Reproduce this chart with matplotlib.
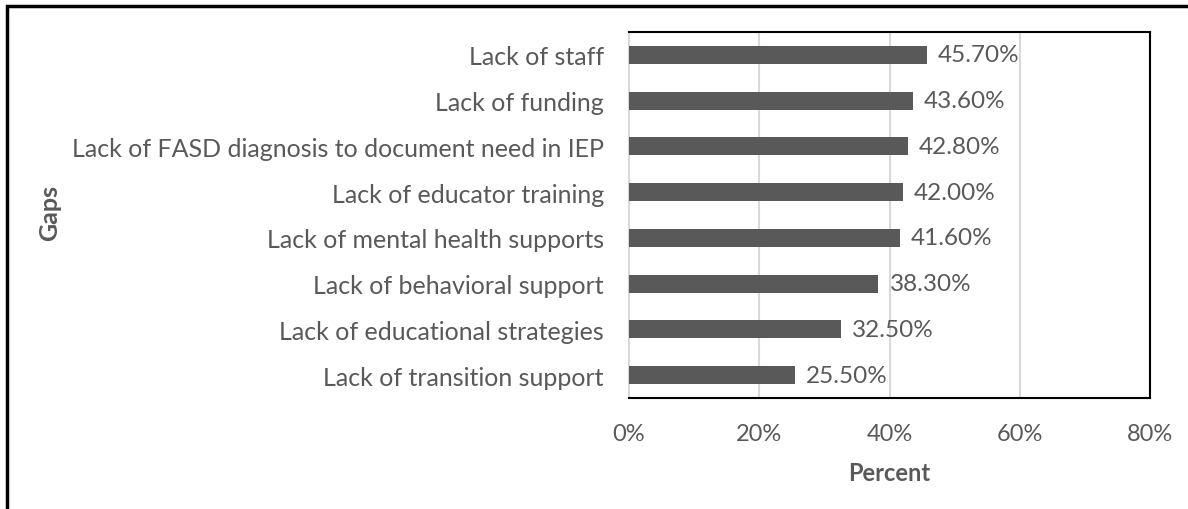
import matplotlib.pyplot as plt
from matplotlib.patches import Rectangle

gaps = ['Lack of staff', 'Lack of funding', 'Lack of FASD diagnosis to document need in IEP',
        'Lack of educator training', 'Lack of mental health supports', 'Lack of behavioral support',
        'Lack of educational strategies', 'Lack of transition support']
percent = [45.7, 43.6, 42.8, 42.0, 41.6, 38.3, 32.5, 25.5]
xticks = [0, 20, 40, 60, 80]

GREY = '#595959'
plt.rcParams['font.family'] = ['Lato', 'DejaVu Sans']

fig = plt.figure(figsize=(11.88, 5.1), dpi=100)
ax = fig.add_axes([629 / 1188, 1 - 399 / 510, (1150 - 629) / 1188, (399 - 33) / 510])

ypos = list(range(len(gaps)))
ax.barh(ypos, percent, height=0.39, color=GREY, zorder=3)
for y, v in zip(ypos, percent):
    ax.text(v + 1.7, y, f'{v:.2f}%', va='center', ha='left', fontsize=17.5, color=GREY)

ax.set_yticks(ypos)
ax.set_yticklabels(gaps, fontsize=18)
ax.set_ylim(len(gaps) - 0.5, -0.5)
ax.set_xlim(0, 80)
ax.set_xticks(xticks)
ax.set_xticklabels([f'{t}%' for t in xticks], fontsize=17)
ax.tick_params(axis='both', length=0, colors=GREY)
ax.tick_params(axis='y', pad=18)
ax.tick_params(axis='x', pad=18)
ax.grid(axis='x', color='#d9d9d9', linewidth=1.5, zorder=0)

for side in ['top', 'right', 'bottom']:
    ax.spines[side].set_color('black')
    ax.spines[side].set_linewidth(1.5)
ax.spines['left'].set_color('#d9d9d9')
ax.spines['left'].set_linewidth(1.5)

ax.set_xlabel('Percent', fontsize=17, fontweight='bold', color=GREY, labelpad=12)
fig.text(50 / 1188, 1 - 213 / 510, 'Gaps', rotation=90, fontsize=18, fontweight='bold',
         color=GREY, ha='center', va='center')

# outer frame (only top and left edges visible)
fig.patches.append(Rectangle((6.5 / 1188, -0.1), 1.2, 1 - 6.5 / 510 + 0.1, transform=fig.transFigure,
                             fill=False, edgecolor='black', linewidth=2.5))

fig.savefig('out.png', dpi=100)
